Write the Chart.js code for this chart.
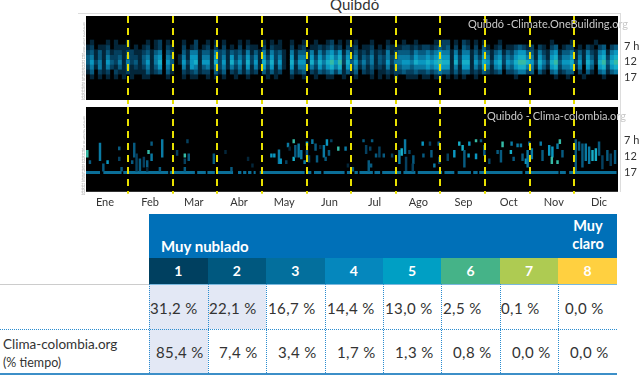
<!DOCTYPE html>
<html lang="es"><head><meta charset="utf-8">
<script src="https://cdn.jsdelivr.net/npm/chart.js@4"></script>
<style>
html,body{margin:0;padding:0;background:#fff;width:640px;height:375px;overflow:hidden;font-family:Lato,sans-serif;color:#333}
canvas{position:absolute;filter:blur(.45px)}
.t{position:absolute;white-space:nowrap}
.b{position:absolute}
</style></head><body>
<div class="t" style="left:330px;top:-5px;font-size:15px;color:#333">Quibdó</div>
<div class="b" style="left:78px;top:13px;width:542px;height:178px;border:1px solid #ddd;border-left:0;border-bottom:0"></div>
<canvas id="top" width="570" height="94" style="left:70px;top:12px"></canvas>
<canvas id="low" width="570" height="108" style="left:70px;top:103px"></canvas>
<div class="t" id="w1" style="left:468px;top:17px;font-size:11px;color:#c9c9c9">Quibdó -Climate.OneBuilding.org</div>
<div class="t" id="w2" style="left:487px;top:109px;font-size:11px;color:#c9c9c9">Quibdó - Clima-colombia.org</div>
<div id="tbl"></div>
<script>
const months=["Ene","Feb","Mar","Abr","May","Jun","Jul","Ago","Sep","Oct","Nov","Dic"];
const monthLabelDays=[13,44,74,105,136,167,198,228,259,290,321,352];
const monthLineDays=[29,59.6,90.2,120.8,151.4,182,212.6,243.2,273.8,304.4,335];
const hourLabels=[7,12,17];
const rowHours=[5.1,6.65,8.2,9.75,11.3,12.85,14.4,15.95,17.5];
const palette=['#000000','#03263a','#05405f','#075b80','#0a7aa3','#0a97c0','#16aec8','#35bba6','#79c47c'];
const r0="0100010100 1000010120 1000100200 1010100010 1000101010 0100100100 1201010100 0100010001 0010000112 2010210101 0001000000 0000001000 0100000100 000";
const r1="1201120111 1010120120 2100201201 2020201020 2110202110 0201201121 2312021201 1201021112 2121221232 3020320203 1012011232 1202102301 2201021023 023";
const r2="2313131221 2211231340 3200314413 3142313231 4131414231 0413314142 4535141312 1312141233 3243343454 4141441314 3134132455 3314214513 3413142145 145";
const r3="3413142231 3221341450 4301415514 4152415242 5241525241 0514415253 5646252413 2413242344 4354454565 5152551425 4145243566 4415315624 4514153156 256";
const r4="3524153241 4231351460 5301525615 5162516352 6251636251 0625516364 6757263524 2413252445 5465565676 6162661536 5256254677 6526426735 5625164167 367";
const r5="2414142131 3121241350 4200415413 4142414241 5141525141 0514414253 5646152413 1312141334 4344454565 5141551425 4145143566 4415315624 4514053056 256";
const r6="1302120211 2111131230 3100212312 2031302131 3120313120 0312302132 3424131302 1201121223 2232232343 3131331213 2123022344 2303103412 3302031034 134";
const r7="0101010101 0100110000 1000101100 1010100100 1000010100 0100100100 1100100100 0101010100 1110110110 1010100100 0000000100 0000000100 1000100001 000";
const heatRows=[r0,r1,r2,r3,r4,r5,r6,r7];
const bandSegments=[[0,9.6],[11.9,24.4],[25.6,56.4],[57.5,74.7],[76.3,82.2],[83.3,88.4],[90.6,100.9],[104.3,106.6],[107.8,110],[111.2,113.5],[115,116.4],[119.2,150],[151.1,154.6],[156.4,161.4],[163,177.4],[179,182],[184.2,186.5],[187.6,196.8],[197.9,201.8],[203.2,216.2],[217.8,226],[227.6,244.3],[245.9,252.7],[255,264.1],[265.7,268.7],[269.8,299.5],[301.3,324.2],[325.1,329.2],[331.5,364]];
const strips=[[0.9,10.2,12.3,7],[9.6,7.85,13.4,4],[2.7,13.4,14.4,3],[11.9,14.4,16.75,3],[14.8,13.4,14.4,5],[22.8,9.1,10,3],[22.8,12.3,13.4,2],[24.4,15.5,16.75,3],[33.1,7.85,12.3,3],[31.7,13.4,14.4,3],[34.7,11.25,16.75,2],[37,12.85,16.75,3],[39.7,12.3,15.5,2],[42,13.4,15.5,3],[42.9,10.2,11.25,7],[45,7.5,8.6,3],[45,11.25,13.4,4],[42,15.5,16.75,1],[52.3,6.8,12.3,4],[50.7,15.5,16.75,3],[62.5,10.2,11.8,2],[67.8,11.25,12.3,7],[70.5,11.25,13.4,3],[67.8,12.85,14.4,2],[67.8,15.5,16.75,3],[69.6,6.8,7.85,2],[87.7,11.25,14.4,3],[95.7,10.2,11.25,1],[99.8,15.5,16.75,3],[111.2,12.3,13.4,1],[114.2,14.4,15.5,1],[127.2,11.25,12.3,5],[129.2,11.25,12.3,5],[132.4,10,14.4,4],[133.6,12.85,14.4,5],[138.6,7.85,9.1,4],[139.7,9.1,10.2,1],[142.5,6.8,7.85,7],[142.5,12.3,13.4,6],[137.4,13.4,14.4,2],[143.6,8.6,12.3,3],[145.9,8.1,12.3,4],[147.7,10.2,12.85,4],[150,13.4,14.4,4],[151.6,7.5,8.6,6],[151.6,10.2,12.3,3],[153,11.8,13.9,2],[155.3,6.8,8.1,4],[157.5,8.1,10.2,3],[158.5,11.8,13.9,3],[160.7,8.6,9.65,1],[163.2,8.6,12.3,4],[165.3,6.8,8.6,5],[166.7,10.2,11.8,3],[164.4,12.3,13.4,3],[168.3,6.8,7.5,2],[173.1,9.1,10.2,7],[178.1,9.1,10.2,4],[179.7,14.4,15.5,1],[183.1,15.5,16.75,3],[190.4,6.8,7.5,3],[192.2,8.6,11.25,2],[195,9.1,10.2,2],[196.3,6.8,7.5,3],[194,13.4,16.75,3],[195.6,14.4,15.5,3],[199,11.25,12.3,3],[201.3,9.1,12.3,2],[204.3,11.25,12.3,3],[210,11.25,12.3,2],[215,10.2,14.4,4],[216.6,9.65,11.8,6],[218.9,6.8,11.25,4],[219.6,12.3,16.55,2],[221.9,10.2,11.25,2],[224.6,11.8,14.4,3],[224.2,14.4,16.75,2],[231,7.5,8.6,5],[231.5,11.25,12.3,3],[236,7.5,8.6,2],[237,10.2,12.3,3],[239,14.4,15.5,4],[242,7.5,8.6,3],[242.4,12.3,14.4,2],[248.2,11.25,13.4,2],[252.7,10.2,12.3,5],[256.1,7.5,8.6,6],[258.4,8.6,10.2,6],[259.6,10.2,15.5,3],[263,7.5,8.6,5],[262.5,11.25,12.3,5],[267.6,6.8,7.5,7],[271,6.8,7.5,3],[267.6,11.25,12.85,5],[273.3,8.6,11.8,3],[276.7,12.85,14.4,2],[282.4,10.2,11.25,3],[285.8,7.5,9.1,7],[284.7,10.2,13.9,3],[292,7.5,8.6,4],[291.5,10.2,11.25,6],[293.4,12.3,13.4,3],[296.1,8.1,9.1,4],[298.4,8.1,9.1,4],[299.5,11.25,13.4,3],[301.8,12.85,14.4,5],[304.1,7.5,8.6,3],[303,10.2,15.5,4],[305.9,9.65,12.85,4],[312,7.5,8.6,4],[313.2,10.2,13.4,3],[317.8,8.6,11.8,5],[320,9.1,12.3,5],[319.6,12.3,14.4,7],[323.5,8.1,9.65,4],[325.1,6.8,8.1,7],[323.5,13.4,14.4,7],[326.9,10.2,12.3,3],[336,6.8,16.55,3],[338.3,7.5,10.2,3],[340.6,8.1,15.5,3],[342.9,8.1,13.4,4],[345.2,9.1,14.4,4],[347.5,10.2,13.4,6],[349.8,9.65,13.4,6],[352,7.5,11.8,3],[354.3,11.8,16,2],[357.7,10.2,13.4,3],[360,11.25,15,2],[363,10.2,14.4,3]];
const bandHour=17.2;
const colNames=["1","2","3","4","5","6","7","8"];
const colColors=["#004060","#00587f","#036f9d","#0587bd","#009fc4","#45b388","#aecb52","#ffd040"];
const rowOneValues=["31,2 %","22,1 %","16,7 %","14,4 %","13,0 %","2,5 %","0,1 %","0,0 %"];
const rowTwoValues=["85,4 %","7,4 %","3,4 %","1,7 %","1,3 %","0,8 %","0,0 %","0,0 %"];

const ticksMerged=monthLineDays.concat(monthLabelDays).sort((a,b)=>a-b);
function noPad(s){s.paddingTop=0;s.paddingBottom=0;s.paddingLeft=0;s.paddingRight=0;}
function xScale(showLabels){return{type:'linear',min:0,max:365,offset:false,
  afterBuildTicks(s){s.ticks=ticksMerged.map(v=>({value:v}));},
  afterFit:noPad,
  grid:{offset:false,z:1,lineWidth:2,tickBorderDash:[4,2],tickWidth:2,tickLength:showLabels?2:6,
    color:c=>monthLineDays.includes(c.tick&&c.tick.value)?'#e8e000':'transparent',
    tickColor:c=>monthLineDays.includes(c.tick&&c.tick.value)?'#e8e000':'transparent'},
  border:{display:false,dash:[7,5]},
  ticks:{display:showLabels,autoSkip:false,maxRotation:0,padding:2,color:'#333',font:{family:'Lato',size:11},
    callback:v=>{const i=monthLabelDays.indexOf(v);return i<0?'':months[i];}}};}
function yScales(lo,hi){const shared={type:'linear',reverse:true,min:lo,max:hi};return{
  y:{...shared,position:'left',afterFit(s){s.width=16;noPad(s);},
    afterBuildTicks(s){s.ticks=Array.from({length:25},(_,i)=>({value:i}));},
    grid:{display:false,tickLength:0},border:{display:false},
    ticks:{autoSkip:false,padding:1,color:'#999',font:{size:3.2},callback:v=>String(v)}},
  yr:{...shared,position:'right',afterFit(s){s.width=22;noPad(s);},
    afterBuildTicks(s){s.ticks=hourLabels.map(v=>({value:v}));},
    grid:{display:false,tickLength:0},border:{display:false},
    ticks:{autoSkip:false,padding:6,color:'#333',font:{family:'Lato',size:11},callback:v=>v+' h'}}};}
const blackPanel={id:'blackPanel',beforeDraw(c){const a=c.chartArea;c.ctx.fillStyle='#000';c.ctx.fillRect(a.left,a.top,a.width,a.height);}};

const heatSets=heatRows.map((row,ri)=>{
  const digits=row.replace(/ /g,'').split('').map(Number);
  const data=[],colors=[];
  digits.forEach((v,i)=>{if(v>0){data.push({x:(i+.5)*365/digits.length,y:[rowHours[ri],rowHours[ri+1]]});colors.push(palette[v]);}});
  return{data,backgroundColor:colors,borderWidth:0,barThickness:3.6,grouped:false};
});
const common={responsive:false,animation:false,events:[],plugins:{legend:{display:false},tooltip:{enabled:false}}};
new Chart(document.getElementById('top'),{type:'bar',data:{datasets:heatSets},plugins:[blackPanel],
  options:{...common,layout:{autoPadding:false,padding:{top:4,bottom:0,left:0,right:0}},scales:{x:xScale(false),...yScales(-2.55,24.2)}}});
const bandData=[];
bandSegments.forEach(s=>{bandData.push({x:s[0],y:bandHour},{x:s[1],y:bandHour},{x:s[1],y:null});});
const lowSets=[
 {type:'line',data:bandData,borderColor:'#0b6f98',borderWidth:3,pointRadius:0,spanGaps:false,order:2},
 {data:strips.map(s=>({x:s[0],y:[s[1],s[2]]})),backgroundColor:strips.map(s=>palette[s[3]]),borderWidth:0,barThickness:1.8,grouped:false,order:1}];
new Chart(document.getElementById('low'),{type:'bar',data:{datasets:lowSets},plugins:[blackPanel],
  options:{...common,layout:{autoPadding:false,padding:{top:4,bottom:0,left:0,right:0}},scales:{x:xScale(true),...yScales(-3.5,23.25)}}});

const T=document.getElementById('tbl');
function box(l,t,w,h,css,txt){const d=document.createElement('div');d.className=txt!==undefined?'t':'b';d.style.cssText=`left:${l}px;top:${t}px;width:${w}px;height:${h}px;${css}`;if(txt!==undefined)d.textContent=txt;T.appendChild(d);return d;}
const cellX=[149,207.5,266,324.5,383,441,500,558,617];
const rowOneTextX=[150,209,268,327,385,443,501,565];
const rowTwoTextX=[156,219,278,337,395,453,512,570];
box(149,214,468,44,'background:#0070b8');
box(161,236,120,20,'color:#fff;font-weight:700;font-size:15px;line-height:20px','Muy nublado');
box(558,217,60,18,'color:#fff;font-weight:700;font-size:14.5px;line-height:18px;text-align:center','Muy');
box(558,235,60,18,'color:#fff;font-weight:700;font-size:14.5px;line-height:18px;text-align:center','claro');
colNames.forEach((n,i)=>{box(cellX[i],258,cellX[i+1]-cellX[i],26,`background:${colColors[i]};color:#fff;font-weight:700;font-size:14px;line-height:26px;text-align:center`,n);});
box(149,284,116.5,45,'background:#e3e8f5');
box(149,329,58.5,44,'background:#e3e8f5');
box(0,284,149,1,'background:#ccc');
box(149,284,468,1,'background:#7ab8de');
box(0,329,617,0,'border-top:1.5px dotted #2a8cd0');
box(0,373,617,2,'background:#3c8fc8');
cellX.slice(0,8).forEach(x=>box(x,284,0,89,'border-left:1.5px dotted #2a8cd0'));
rowOneValues.forEach((v,i)=>box(rowOneTextX[i],298,56,20,'font-size:15px;line-height:20px;letter-spacing:.4px;color:#333',v));
rowTwoValues.forEach((v,i)=>box(rowTwoTextX[i],342,56,20,'font-size:15px;line-height:20px;letter-spacing:.4px;color:#333',v));
box(3,335,140,18,'font-size:13.5px;line-height:18px;color:#333','Clima-colombia.org');
box(3,354,140,18,'font-size:12.5px;line-height:18px;color:#333','(% tiempo)');
</script>
</body></html>
